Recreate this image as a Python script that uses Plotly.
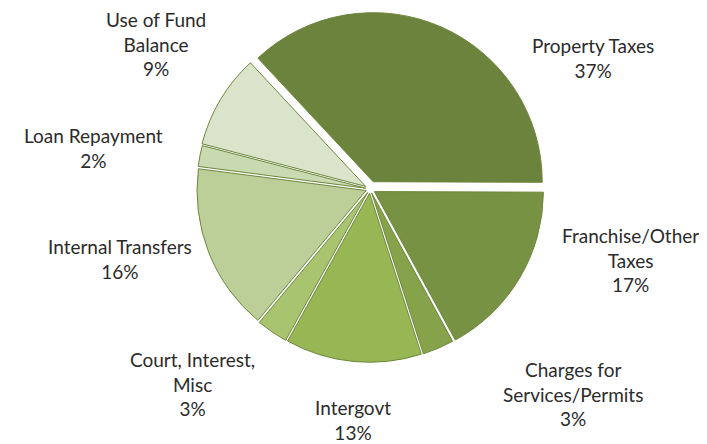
import plotly.graph_objects as go

categories = ["Property Taxes", "Franchise/Other Taxes", "Charges for Services/Permits",
              "Intergovt", "Court, Interest, Misc", "Internal Transfers",
              "Loan Repayment", "Use of Fund Balance"]
values = [37, 17, 3, 13, 3, 16, 2, 9]
label_lines = ["Property Taxes", "Franchise/Other<br>Taxes", "Charges for<br>Services/Permits",
               "Intergovt", "Court, Interest,<br>Misc", "Internal Transfers",
               "Loan Repayment", "Use of Fund<br>Balance"]

colors = ["#6B833C", "#789244", "#86A24B", "#97B654", "#A8C46F", "#BCCF99", "#CADAB0", "#D9E4CA"]
pulls = [0.047, 0.03, 0.025, 0.025, 0.025, 0.025, 0.025, 0.03]
# label centres in pixels (x, y)
label_pos = [(585, 50), (622, 252), (565, 386), (345, 412),
             (184, 376), (112, 251), (85, 140), (148, 36)]

W, H = 707, 444
fig = go.Figure(go.Pie(
    labels=categories, values=values, sort=False, direction="clockwise",
    rotation=-43, pull=pulls, textinfo="none", hoverinfo="label+percent",
    marker=dict(colors=colors, line=dict(color="#6E873D", width=1)),
    domain=dict(x=[185 / W, 539 / W], y=[1 - 358 / H, 1 - 4 / H]),
    showlegend=False,
))

for txt, v, (px, py) in zip(label_lines, values, label_pos):
    fig.add_annotation(x=px / W, y=1 - py / H, xref="paper", yref="paper",
                       text=f"{txt}<br>{v}%", showarrow=False,
                       xanchor="center", yanchor="middle", align="center",
                       font=dict(family="Lato", size=19, color="#2b2b2b"))

fig.update_layout(width=W, height=H, margin=dict(l=0, r=0, t=0, b=0),
                  paper_bgcolor="white", plot_bgcolor="white")
fig.write_html("out.html")
